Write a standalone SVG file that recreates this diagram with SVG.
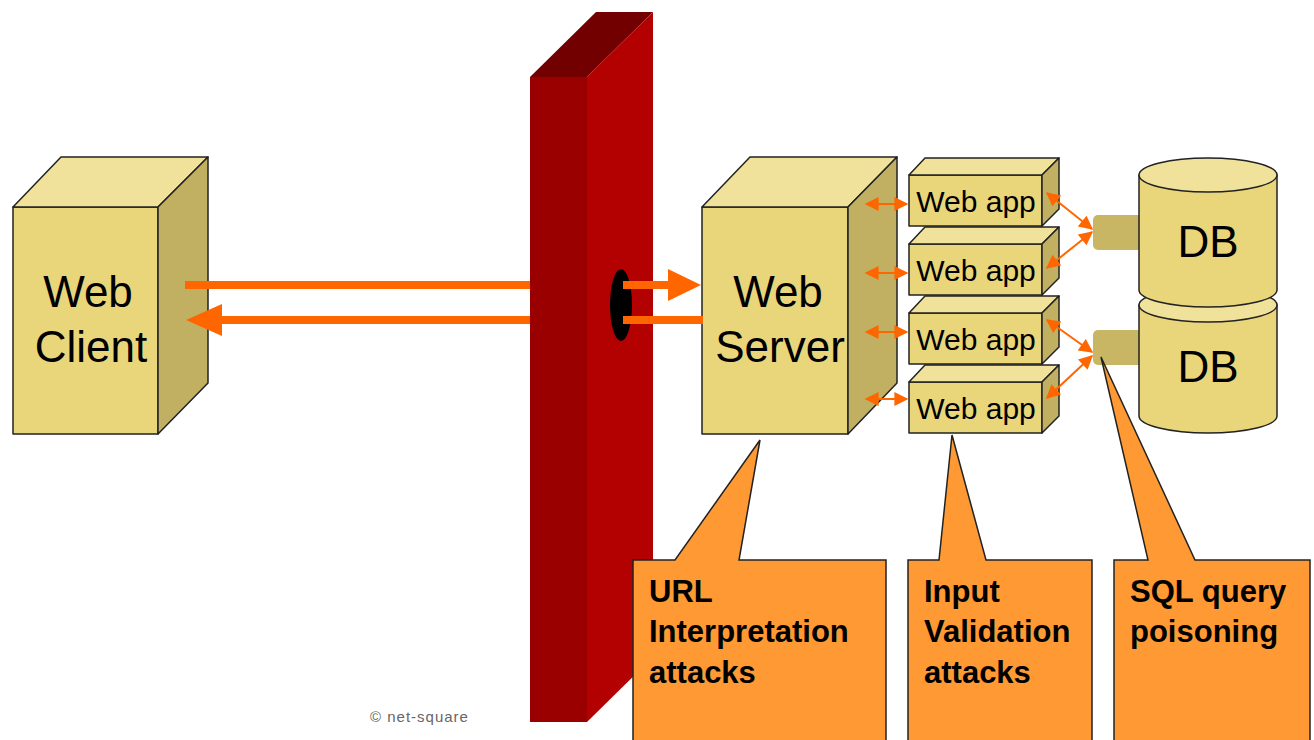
<svg xmlns="http://www.w3.org/2000/svg" width="1314" height="740" viewBox="0 0 1314 740">
<defs>
<style>
.front{fill:#e9d57a;stroke:#222;stroke-width:1.5;stroke-linejoin:round}
.top{fill:#f0e19b;stroke:#222;stroke-width:1.5;stroke-linejoin:round}
.side{fill:#c1b061;stroke:#222;stroke-width:1.5;stroke-linejoin:round}
.big{font-family:"Liberation Sans",Arial,sans-serif;font-size:44px;fill:#000}
.app{font-family:"Liberation Sans",Arial,sans-serif;font-size:30px;fill:#000}
.call{fill:#ff9933;stroke:#222;stroke-width:1.5;stroke-linejoin:miter}
.ctext{font-family:"Liberation Sans",Arial,sans-serif;font-size:31px;font-weight:bold;fill:#000}
.thick{stroke:#ff6600;stroke-width:8;fill:none}
.thin{stroke:#ff6600;stroke-width:2;fill:none;marker-start:url(#ah);marker-end:url(#ah)}
.stub{fill:#c8b664}
</style>
<marker id="ah" viewBox="0 0 10 10" refX="9" refY="5" markerWidth="8" markerHeight="7" orient="auto-start-reverse" markerUnits="strokeWidth">
<path d="M0,0 L10,5 L0,10 Z" fill="#ff6600"/>
</marker>
</defs>
<rect width="1314" height="740" fill="#fff"/>

<g id="web-client">
<polygon class="front" points="13,207 158,207 158,434 13,434"/>
<polygon class="top" points="13,207 61,157 208,157 158,207"/>
<polygon class="side" points="158,207 208,157 208,383 158,434"/>
<text class="big" x="88" y="307" text-anchor="middle">Web</text>
<text class="big" x="91" y="362" text-anchor="middle">Client</text>
</g>

<g id="firewall">
<polygon points="530,77 587,77 653,12 596,12" fill="#730000"/>
<polygon points="530,77 587,77 587,722 530,722" fill="#9b0000"/>
<polygon points="587,77 653,12 653,657 587,722" fill="#b30000"/>
<ellipse cx="621" cy="305" rx="11" ry="36" fill="#000"/>
</g>

<g id="web-server">
<polygon class="front" points="702,207 848,207 848,434 702,434"/>
<polygon class="top" points="702,207 750,157 897,157 848,207"/>
<polygon class="side" points="848,207 897,157 897,383 848,434"/>
<text class="big" x="778" y="307" text-anchor="middle">Web</text>
<text class="big" x="780" y="362" text-anchor="middle">Server</text>
</g>

<g id="web-app-1">
<polygon class="front" points="909,175 1042,175 1042,226 909,226"/>
<polygon class="top" points="909,175 925,158 1059,158 1042,175"/>
<polygon class="side" points="1042,175 1059,158 1059,209 1042,226"/>
<text class="app" x="976" y="212" text-anchor="middle">Web app</text>
</g>
<g id="web-app-2">
<polygon class="front" points="909,244 1042,244 1042,295 909,295"/>
<polygon class="top" points="909,244 925,227 1059,227 1042,244"/>
<polygon class="side" points="1042,244 1059,227 1059,278 1042,295"/>
<text class="app" x="976" y="281" text-anchor="middle">Web app</text>
</g>
<g id="web-app-3">
<polygon class="front" points="909,313 1042,313 1042,364 909,364"/>
<polygon class="top" points="909,313 925,296 1059,296 1042,313"/>
<polygon class="side" points="1042,313 1059,296 1059,347 1042,364"/>
<text class="app" x="976" y="350" text-anchor="middle">Web app</text>
</g>
<g id="web-app-4">
<polygon class="front" points="909,382 1042,382 1042,433 909,433"/>
<polygon class="top" points="909,382 925,365 1059,365 1042,382"/>
<polygon class="side" points="1042,382 1059,365 1059,416 1042,433"/>
<text class="app" x="976" y="419" text-anchor="middle">Web app</text>
</g>

<g id="db-2">
<rect class="stub" x="1093" y="330" width="50" height="35" rx="5"/>
<path class="front" d="M1139,305 L1139,416 A69,17 0 0 0 1277,416 L1277,305 Z"/>
<ellipse class="top" cx="1208" cy="305" rx="69" ry="17"/>
<text class="big" x="1208" y="382" text-anchor="middle">DB</text>
</g>
<g id="db-1">
<rect class="stub" x="1093" y="215" width="50" height="35" rx="5"/>
<path class="front" d="M1139,175 L1139,290 A69,17 0 0 0 1277,290 L1277,175 Z"/>
<ellipse class="top" cx="1208" cy="175" rx="69" ry="17"/>
<text class="big" x="1208" y="257" text-anchor="middle">DB</text>
</g>

<g id="connectors">
<line class="thick" x1="185" y1="285" x2="530" y2="285"/>
<line class="thick" x1="220" y1="320" x2="530" y2="320"/>
<polygon points="186,320 222,304 222,336" fill="#ff6600"/>
<line class="thick" x1="623" y1="285" x2="670" y2="285"/>
<polygon points="668,269 701,285 668,301" fill="#ff6600"/>
<line class="thick" x1="623" y1="320" x2="703" y2="320"/>
<line class="thin" x1="866" y1="204" x2="907" y2="204"/>
<line class="thin" x1="866" y1="273" x2="907" y2="273"/>
<line class="thin" x1="866" y1="332" x2="907" y2="332"/>
<line class="thin" x1="866" y1="399" x2="907" y2="399"/>
<line class="thin" x1="1047" y1="193" x2="1092" y2="229"/>
<line class="thin" x1="1047" y1="268" x2="1092" y2="232"/>
<line class="thin" x1="1047" y1="320" x2="1092" y2="352"/>
<line class="thin" x1="1047" y1="398" x2="1092" y2="356"/>
</g>

<g id="callout-url">
<path class="call" d="M760,440 L739,560 L886,560 L886,742 L633,742 L633,560 L675,560 Z"/>
<text class="ctext" x="649" y="602">URL</text>
<text class="ctext" x="649" y="642">Interpretation</text>
<text class="ctext" x="649" y="683">attacks</text>
</g>
<g id="callout-input">
<path class="call" d="M952,435 L986,560 L1092,560 L1092,742 L908,742 L908,560 L939,560 Z"/>
<text class="ctext" x="924" y="602">Input</text>
<text class="ctext" x="924" y="642">Validation</text>
<text class="ctext" x="924" y="683">attacks</text>
</g>
<g id="callout-sql">
<path class="call" d="M1101,357 L1195,560 L1310,560 L1310,742 L1114,742 L1114,560 L1148,560 Z"/>
<text class="ctext" x="1130" y="602">SQL query</text>
<text class="ctext" x="1130" y="642">poisoning</text>
</g>

<text x="370" y="722" font-family="'Liberation Sans',Arial,sans-serif" font-size="15" letter-spacing="1" fill="#666">© net-square</text>
</svg>
